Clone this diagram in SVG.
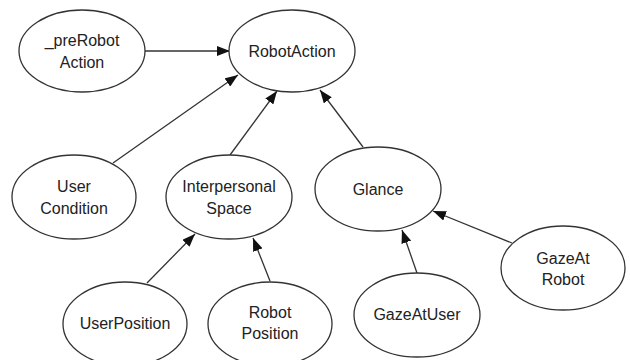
<svg xmlns="http://www.w3.org/2000/svg" width="630" height="360" viewBox="0 0 630 360">
<style>
.n ellipse{fill:#fff;stroke:#333;stroke-width:1.3}
.n text{font-family:"Liberation Sans","Noto Sans CJK JP",sans-serif;font-size:16px;fill:#222;text-anchor:middle;dominant-baseline:central}
.e line{stroke:#333;stroke-width:1.3;marker-end:url(#ah)}
</style>
<defs>
<marker id="ah" markerUnits="userSpaceOnUse" markerWidth="14" markerHeight="10" refX="13" refY="5" orient="auto">
<path d="M0,0 L13,5 L0,10 Z" fill="#111"/>
</marker>
</defs>
<rect width="630" height="360" fill="#fff"/>
<g class="e">
<line x1="145" y1="51" x2="230" y2="51"/>
<line x1="113" y1="163" x2="238" y2="75"/>
<line x1="230" y1="155" x2="277" y2="91"/>
<line x1="363" y1="147" x2="320" y2="90"/>
<line x1="147" y1="283" x2="195" y2="234"/>
<line x1="270" y1="281" x2="253" y2="238"/>
<line x1="417" y1="273" x2="402" y2="230"/>
<line x1="512" y1="243" x2="433" y2="211"/>
</g>
<g id="preRobotAction" class="n"><ellipse cx="82" cy="51" rx="63" ry="41"/><text x="82" y="40">_preRobot</text><text x="82" y="62">Action</text></g>
<g id="RobotAction" class="n"><ellipse cx="292" cy="51" rx="63" ry="41"/><text x="292" y="51">RobotAction</text></g>
<g id="UserCondition" class="n"><ellipse cx="74" cy="197" rx="62" ry="42"/><text x="74" y="186">User</text><text x="74" y="208">Condition</text></g>
<g id="InterpersonalSpace" class="n"><ellipse cx="229" cy="197" rx="63" ry="42"/><text x="229" y="186">Interpersonal</text><text x="229" y="208">Space</text></g>
<g id="Glance" class="n"><ellipse cx="378" cy="189" rx="63" ry="42"/><text x="378" y="189">Glance</text></g>
<g id="UserPosition" class="n"><ellipse cx="125" cy="324" rx="62" ry="42"/><text x="125" y="323">UserPosition</text></g>
<g id="RobotPosition" class="n"><ellipse cx="270" cy="324" rx="62" ry="42"/><text x="270" y="312">Robot</text><text x="270" y="333">Position</text></g>
<g id="GazeAtUser" class="n"><ellipse cx="417" cy="315" rx="63" ry="42"/><text x="417" y="314">GazeAtUser</text></g>
<g id="GazeAtRobot" class="n"><ellipse cx="563" cy="268" rx="62" ry="42"/><text x="563" y="258">GazeAt</text><text x="563" y="279">Robot</text></g>
</svg>
